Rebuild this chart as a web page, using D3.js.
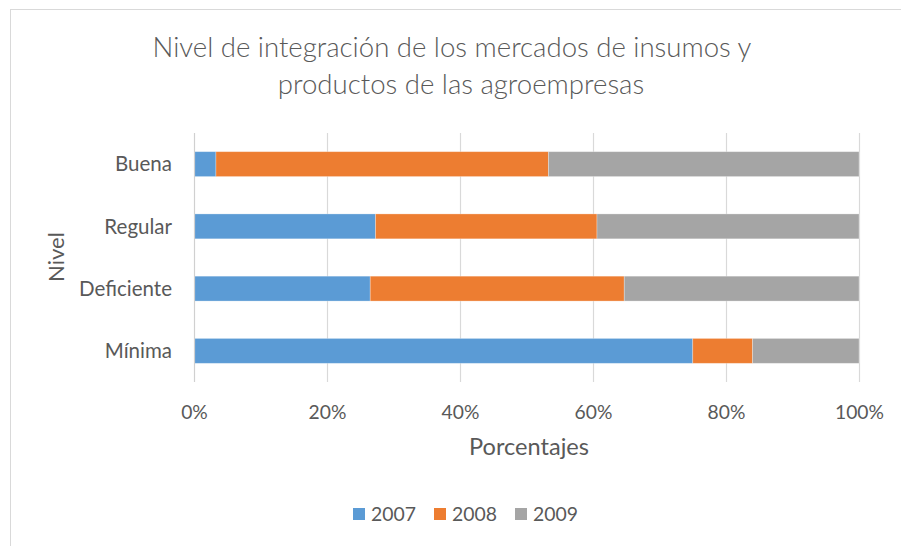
<!DOCTYPE html>
<html>
<head>
<meta charset="utf-8">
<script src="https://cdn.jsdelivr.net/npm/d3@7"></script>
<style>
  html, body { margin: 0; padding: 0; background: #fff; }
  svg { display: block; }
  text { font-family: Lato, "Open Sans", sans-serif; fill: #595959; }
</style>
</head>
<body>
<svg id="chart" width="901" height="546"></svg>
<script>
// ---- data ----
const categories = ["Buena", "Regular", "Deficiente", "Mínima"];
const years = ["2007", "2008", "2009"];
const values2007 = [3.3, 27.3, 26.5, 75.0];
const values2008 = [50.0, 33.3, 38.2, 9.0];
const values2009 = [46.7, 39.4, 35.3, 16.0];
const tickValues = [0, 0.2, 0.4, 0.6, 0.8, 1.0];
const titleLines = ["Nivel de integración de los mercados de insumos y", "productos de las agroempresas"];
const xTitle = "Porcentajes";
const yTitle = "Nivel";
const colors = ["#5B9BD5", "#ED7D31", "#A5A5A5"];

const seriesValues = [values2007, values2008, values2009];
const rows = categories.map((c, i) => {
  const r = { cat: c };
  years.forEach((y, k) => r[y] = seriesValues[k][i]);
  return r;
});
const stacked = d3.stack().keys(years).offset(d3.stackOffsetExpand)(rows);

const svg = d3.select("#chart");

// outer border
svg.append("rect").attr("x", 10.5).attr("y", 9.5).attr("width", 1000).attr("height", 1000)
  .attr("fill", "none").attr("stroke", "#d9d9d9").attr("stroke-width", 1);

const plot = { left: 194, right: 859, top: 133, bottom: 382 };
const x = d3.scaleLinear().domain([0, 1]).range([plot.left, plot.right]);
const y = d3.scaleBand().domain(categories).range([plot.top, plot.bottom]).paddingInner(0.6).paddingOuter(0.3);

function fit(sel, target) {
  const w = sel.node().getComputedTextLength();
  const fs = parseFloat(sel.attr("font-size"));
  sel.attr("font-size", fs * target / w);
}

// gridlines
svg.append("g").selectAll("line").data(tickValues.slice(1)).join("line")
  .attr("x1", d => Math.round(x(d)) + 0.5).attr("x2", d => Math.round(x(d)) + 0.5)
  .attr("y1", plot.top).attr("y2", plot.bottom)
  .attr("stroke", "#d9d9d9").attr("stroke-width", 1.2);

// bars
const g = svg.append("g");
stacked.forEach((s, k) => {
  g.append("g").selectAll("rect").data(s).join("rect")
    .attr("x", d => x(d[0]))
    .attr("width", d => x(d[1]) - x(d[0]))
    .attr("y", d => y(d.data.cat))
    .attr("height", y.bandwidth())
    .attr("fill", colors[k])
    .attr("stroke", "#ffffff").attr("stroke-opacity", 0.35).attr("stroke-width", 0.8);
});

// left axis line
svg.append("line").attr("x1", Math.round(x(0)) + 0.5).attr("x2", Math.round(x(0)) + 0.5)
  .attr("y1", plot.top).attr("y2", plot.bottom).attr("stroke", "#d0d0d0").attr("stroke-width", 1.2);

// x axis via d3.axisBottom (labels only)
const xAxis = svg.append("g").attr("transform", `translate(0,${plot.bottom})`)
  .call(d3.axisBottom(x).tickValues(tickValues).tickFormat(d3.format(".0%")).tickSize(0).tickPadding(0));
xAxis.select(".domain").remove();
xAxis.selectAll("text").attr("font-size", 20).attr("dy", null).attr("y", 37)
  .style("font-family", "Lato, 'Open Sans', sans-serif").style("fill", "#595959");
{
  const last = xAxis.selectAll("text").filter(d => d === 1);
  const w = last.node().getComputedTextLength();
  const fs = 20 * 49 / w;
  xAxis.selectAll("text").attr("font-size", fs);
}

// y axis via d3.axisLeft
const yAxis = svg.append("g").attr("transform", `translate(172,0)`)
  .call(d3.axisLeft(y).tickSize(0).tickPadding(0));
yAxis.select(".domain").remove();
yAxis.selectAll("text").attr("font-size", 20).attr("dy", "0.35em")
  .style("font-family", "Lato, 'Open Sans', sans-serif").style("fill", "#595959");
{
  const b = yAxis.selectAll("text").filter(d => d === "Buena");
  const w = b.node().getComputedTextLength();
  yAxis.selectAll("text").attr("font-size", 20 * 57 / w);
}

// title
const t1 = svg.append("text").attr("x", 452).attr("y", 57).attr("text-anchor", "middle").attr("font-size", 26)
  .attr("font-weight", 300).text(titleLines[0]);
fit(t1, 599);
const t2 = svg.append("text").attr("x", 461).attr("y", 94).attr("text-anchor", "middle").attr("font-size", t1.attr("font-size"))
  .attr("font-weight", 300).text(titleLines[1]);

// axis titles
const xt = svg.append("text").attr("x", 529).attr("y", 455).attr("text-anchor", "middle").attr("font-size", 20).text(xTitle);
fit(xt, 120);
const yt = svg.append("text").attr("transform", "translate(64,257) rotate(-90)").attr("text-anchor", "middle").attr("font-size", 20).text(yTitle);
fit(yt, 50);

// legend
const leg = svg.append("g");
const legX = [353, 434, 515];
years.forEach((yr, k) => {
  leg.append("rect").attr("x", legX[k]).attr("y", 508).attr("width", 12).attr("height", 12).attr("fill", colors[k]);
  const lt = leg.append("text").attr("x", legX[k] + 18).attr("y", 521).attr("font-size", 20).text(yr);
  fit(lt, 45);
});
</script>
</body>
</html>
